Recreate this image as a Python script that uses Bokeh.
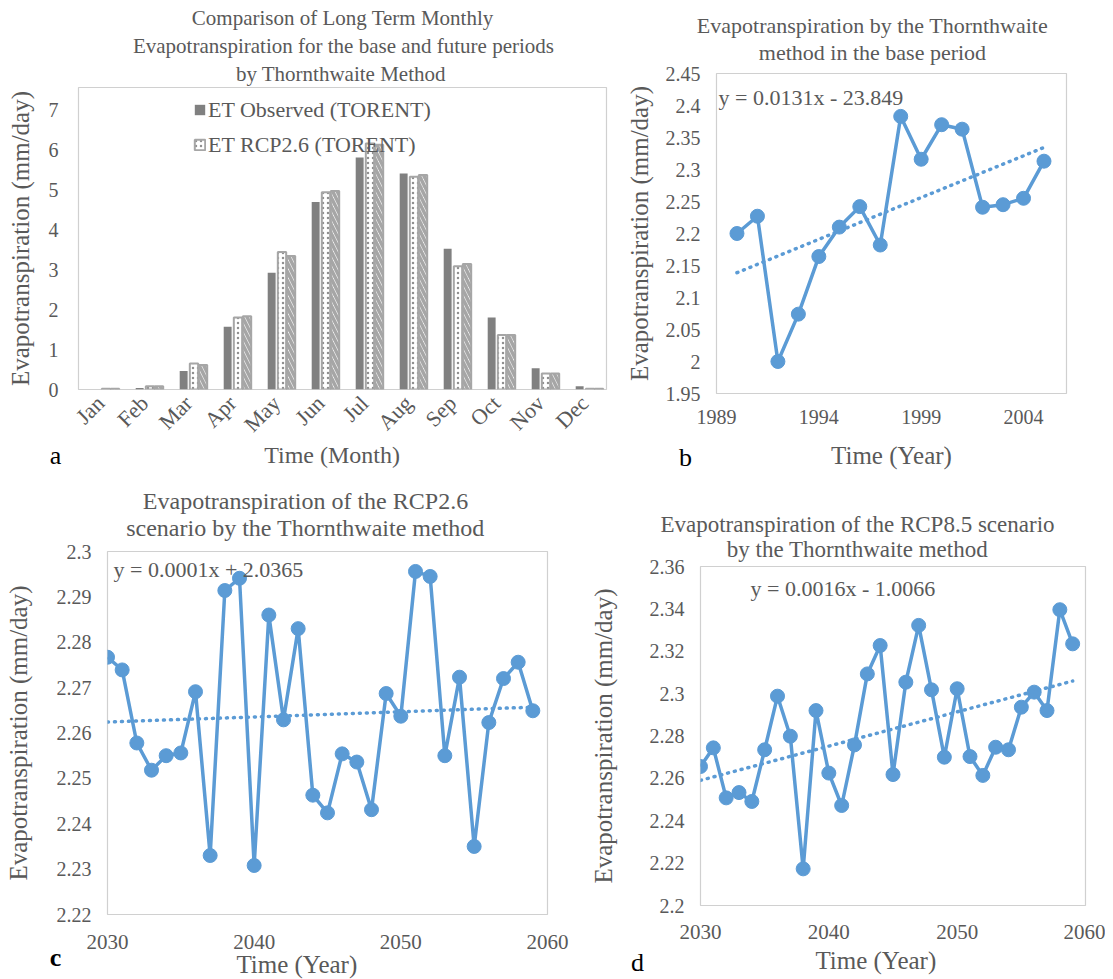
import math
import numpy as np
from bokeh.plotting import figure
from bokeh.layouts import column, row
from bokeh.models import (Label, Legend, LegendItem, NumeralTickFormatter,
                          ColumnDataSource, FixedTicker, Title)
from bokeh.transform import dodge
from bokeh.embed import file_html
from bokeh.resources import INLINE

# ---------------- data ----------------
months = ["Jan", "Feb", "Mar", "Apr", "May", "Jun",
          "Jul", "Aug", "Sep", "Oct", "Nov", "Dec"]
month_idx = list(range(1, 13))
et_observed = [0.0, 0.04, 0.46, 1.57, 2.92, 4.69, 5.80, 5.40, 3.52, 1.80, 0.53, 0.08]
et_rcp26 = [0.02, 0.08, 0.65, 1.80, 3.44, 4.93, 6.15, 5.32, 3.08, 1.36, 0.40, 0.02]
et_rcp85 = [0.02, 0.08, 0.61, 1.83, 3.34, 4.96, 6.12, 5.36, 3.14, 1.36, 0.40, 0.02]
a_yticks = [0, 1, 2, 3, 4, 5, 6, 7]

base_years = list(range(1990, 2006))
base_et = [2.200, 2.227, 2.000, 2.074, 2.164, 2.210, 2.242, 2.182,
           2.383, 2.316, 2.370, 2.363, 2.241, 2.245, 2.255, 2.313]
b_xticks = [1989, 1994, 1999, 2004]
b_yticks = [1.95, 2.0, 2.05, 2.1, 2.15, 2.2, 2.25, 2.3, 2.35, 2.4, 2.45]

fut_years = list(range(2030, 2060))
rcp26_et = [2.2767, 2.2739, 2.2578, 2.2518, 2.2550, 2.2556, 2.2691, 2.2330,
            2.2914, 2.2941, 2.2308, 2.2860, 2.2629, 2.2830, 2.2463, 2.2424,
            2.2554, 2.2536, 2.2431, 2.2687, 2.2637, 2.2956, 2.2945, 2.2550,
            2.2723, 2.2350, 2.2623, 2.2720, 2.2756, 2.2649]
rcp85_et = [2.2656, 2.2744, 2.2508, 2.2533, 2.2491, 2.2735, 2.2988, 2.2799,
            2.2173, 2.2920, 2.2625, 2.2472, 2.2758, 2.3093, 2.3227, 2.2618,
            2.3054, 2.3322, 2.3018, 2.2700, 2.3023, 2.2703, 2.2614, 2.2747,
            2.2735, 2.2936, 2.3007, 2.2920, 2.3396, 2.3235]
fut_xticks = [2030, 2040, 2050, 2060]
c_yticks = [2.22, 2.23, 2.24, 2.25, 2.26, 2.27, 2.28, 2.29, 2.3]
d_yticks = [2.2, 2.22, 2.24, 2.26, 2.28, 2.3, 2.32, 2.34, 2.36]

# ---------------- style ----------------
SERIF = "Liberation Serif"
GRAY = "#595959"
BLUE = "#5B9BD5"
FRAME = "#D0D0D0"

_W = {' ': .25, 'a': .444, 'b': .5, 'c': .444, 'd': .5, 'e': .444, 'f': .333,
      'g': .5, 'h': .5, 'i': .278, 'j': .278, 'k': .5, 'l': .278, 'm': .778,
      'n': .5, 'o': .5, 'p': .5, 'q': .5, 'r': .333, 's': .389, 't': .278,
      'u': .5, 'v': .5, 'w': .722, 'x': .5, 'y': .5, 'z': .444, 'C': .667,
      'E': .611, 'L': .611, 'M': .889, 'P': .556, 'R': .667, 'T': .611,
      'Y': .722, '(': .333, ')': .333, '.': .25, '/': .278}


def tw(s, size):
    return sum(_W.get(ch, .5) for ch in s) * size


class Box:
    pass


def make_fig(px, py, w, h, fl, fr, ft, fb, x_range, y_range):
    p = figure(width=w, height=h, x_range=x_range, y_range=y_range, title=None,
               min_border_left=fl - px, min_border_right=px + w - fr,
               min_border_top=ft - py, min_border_bottom=py + h - fb,
               output_backend="svg", toolbar_location=None, frame_align=False)
    p.grid.visible = False
    p.outline_line_color = FRAME
    p.outline_line_width = 1.2
    for ax in (p.xaxis[0], p.yaxis[0]):
        ax.axis_line_color = None
        ax.major_tick_line_color = None
        ax.minor_tick_line_color = None
        ax.major_tick_out = 0
        ax.major_tick_in = 0
        ax.major_label_text_font = SERIF
        ax.major_label_text_font_size = "20px"
        ax.major_label_text_color = GRAY
        ax.major_label_standoff = 16
        ax.axis_label_text_font = SERIF
        ax.axis_label_text_font_size = "25px"
        ax.axis_label_text_font_style = "normal"
        ax.axis_label_text_color = GRAY
    g = Box()
    g.fl, g.fr, g.ft, g.fb = fl, fr, ft, fb
    return p, g


def titles_above(p, g, lines, ys, size, cx):
    h = 1.15 * size
    P = g.ft
    for s, yc in reversed(list(zip(lines, ys))):
        st = 2 * (P - (yc + h / 2))
        p.add_layout(Title(text=s, align="left", offset=cx - tw(s, size) / 2 - g.fl,
                           standoff=st, text_font=SERIF, text_font_size=f"{size}px",
                           text_font_style="normal", text_color=GRAY), "above")
        P = P - 2 - h - st


def xtitle_below(p, g, s, size, cx, st):
    p.add_layout(Title(text=s, align="left", offset=cx - tw(s, size) / 2 - g.fl,
                       standoff=st, text_font=SERIF, text_font_size=f"{size}px",
                       text_font_style="normal", text_color=GRAY), "below")


def letter(p, g, s, cx, st, style="normal"):
    p.add_layout(Title(text=s, align="left", offset=cx - tw(s, 26) / 2 - g.fl,
                       standoff=st, vertical_align="top", text_font=SERIF,
                       text_font_size="26px", text_font_style=style,
                       text_color="black"), "below")


def eq_label(p, s, x, y):
    p.add_layout(Label(x=x, y=y, x_units="screen", y_units="screen", text=s,
                       text_font=SERIF, text_font_size="22px", text_color=GRAY,
                       text_align="left", text_baseline="middle"))


# ---------------- panel a ----------------
pa, ga = make_fig(0, 0, 620, 472, 78, 606, 87, 389, (0.5, 12.5), (0, 7.55))
src = ColumnDataSource(dict(m=month_idx, obs=et_observed, r26=et_rcp26, r85=et_rcp85))
r_obs = pa.vbar(x=dodge("m", -0.11), top="obs", width=0.18, source=src,
                fill_color="#808080", line_color=None)
r_26 = pa.vbar(x=dodge("m", 0.125), top="r26", width=0.19, source=src,
               fill_color="white", line_color="#A6A6A6", line_width=2,
               hatch_pattern="dot", hatch_color="#909090", hatch_scale=5, hatch_weight=1)
r_85 = pa.vbar(x=dodge("m", 0.33), top="r85", width=0.19, source=src,
               fill_color="white", line_color="#A6A6A6", line_width=2,
               hatch_pattern="left_diagonal_line", hatch_color="#A6A6A6",
               hatch_scale=9, hatch_weight=3.5)
pa.xaxis.ticker = FixedTicker(ticks=month_idx)
pa.xaxis.major_label_overrides = {i: m for i, m in zip(month_idx, months)}
pa.xaxis.major_label_orientation = math.pi / 4
pa.xaxis.major_label_standoff = 10
pa.xaxis.major_label_text_font_size = "22px"
pa.yaxis.ticker = FixedTicker(ticks=a_yticks)
pa.yaxis.major_label_standoff = 20
pa.yaxis.axis_label = "Evapotranspiration (mm/day)"
pa.yaxis.axis_label_standoff = 12
leg = Legend(items=[LegendItem(label="ET Observed (TORENT)", renderers=[r_obs]),
                    LegendItem(label="ET RCP2.6 (TORENT)", renderers=[r_26])],
             location=(115, 230), label_text_font=SERIF, label_text_font_size="22px",
             label_text_color=GRAY, border_line_color=None, background_fill_alpha=0,
             glyph_width=13, glyph_height=13, label_standoff=2, spacing=6,
             padding=0, margin=0, label_height=29)
pa.add_layout(leg)
titles_above(pa, ga, ["Comparison of Long Term Monthly",
                      "Evapotranspiration for the base and future periods",
                      "by Thornthwaite  Method"], [17, 45, 73], 21, 343)
xtitle_below(pa, ga, "Time (Month)", 24, 332, -17)
letter(pa, ga, "a", 55, -38)

# ---------------- panel b ----------------
pb, gb = make_fig(620, 0, 485, 472, 716, 1066, 73, 393, (1989, 2006.1), (1.95, 2.45))
pb.line(base_years, base_et, color=BLUE, line_width=3.5)
pb.scatter(base_years, base_et, size=14, color=BLUE)
fit_b = np.polyfit(base_years, base_et, 1)
tb_x = [base_years[0], base_years[-1]]
pb.line(tb_x, list(np.polyval(fit_b, tb_x)), color=BLUE, line_width=3.5,
        line_dash="1 6", line_cap="round")
pb.xaxis.ticker = FixedTicker(ticks=b_xticks)
pb.yaxis.ticker = FixedTicker(ticks=b_yticks)
pb.yaxis.formatter = NumeralTickFormatter(format="0.[00]")
pb.yaxis.axis_label = "Evapotranspiration (mm/day)"
pb.yaxis.axis_label_standoff = 10
pb.xaxis.axis_label = "Time (Year)"
pb.xaxis.axis_label_standoff = 15
titles_above(pb, gb, ["Evapotranspiration by the Thornthwaite",
                      "method in the base period"], [25, 52], 22, 872)
letter(pb, gb, "b", 685, -57)
eq_label(pb, "y = 0.0131x - 23.849", 2, 296)

# ---------------- panel c ----------------
pc, gc = make_fig(0, 472, 580, 507, 107, 547, 551, 914, (2030, 2060), (2.22, 2.30))
pc.line(fut_years, rcp26_et, color=BLUE, line_width=3.5)
pc.scatter(fut_years, rcp26_et, size=14, color=BLUE)
fit_c = np.polyfit(fut_years, rcp26_et, 1)
tc_x = [fut_years[0], fut_years[-1]]
pc.line(tc_x, list(np.polyval(fit_c, tc_x)), color=BLUE, line_width=3.5,
        line_dash="1 6", line_cap="round")
pc.xaxis.ticker = FixedTicker(ticks=fut_xticks)
pc.yaxis.ticker = FixedTicker(ticks=c_yticks)
pc.yaxis.formatter = NumeralTickFormatter(format="0.[00]")
pc.xaxis.major_label_text_font_size = "21px"
pc.xaxis.major_label_standoff = 20
pc.yaxis.axis_label = "Evapotranspiration (mm/day)"
pc.yaxis.axis_label_standoff = 22
titles_above(pc, gc, ["Evapotranspiration of the RCP2.6",
                      "scenario by the Thornthwaite method"], [498, 527], 24, 305)
xtitle_below(pc, gc, "Time (Year)", 25, 298, -5)
letter(pc, gc, "c", 55, -65, style="bold")
eq_label(pc, "y = 0.0001x + 2.0365", 6, 345)

# ---------------- panel d ----------------
pd_, gd = make_fig(580, 472, 525, 507, 700, 1085, 566, 905, (2030, 2060), (2.2, 2.36))
pd_.line(fut_years, rcp85_et, color=BLUE, line_width=3.5)
pd_.scatter(fut_years, rcp85_et, size=14, color=BLUE)
fit_d = np.polyfit(fut_years, rcp85_et, 1)
td_x = [fut_years[0], fut_years[-1]]
pd_.line(td_x, list(np.polyval(fit_d, td_x)), color=BLUE, line_width=3.5,
         line_dash="1 6", line_cap="round")
pd_.xaxis.ticker = FixedTicker(ticks=fut_xticks)
pd_.yaxis.ticker = FixedTicker(ticks=d_yticks)
pd_.yaxis.formatter = NumeralTickFormatter(format="0.[00]")
pd_.xaxis.major_label_text_font_size = "21px"
pd_.xaxis.major_label_standoff = 19
pd_.yaxis.axis_label = "Evapotranspiration (mm/day)"
pd_.yaxis.axis_label_standoff = 30
titles_above(pd_, gd, ["Evapotranspiration of the RCP8.5 scenario",
                       "by the Thornthwaite method"], [522, 548], 23, 857)
xtitle_below(pd_, gd, "Time (Year)", 25, 877, 6)
letter(pd_, gd, "d", 637, -57)
eq_label(pd_, "y = 0.0016x - 1.0066", 50, 317)

layout = column(row(pa, pb), row(pc, pd_))
open("out.html", "w").write(file_html(layout, INLINE))
